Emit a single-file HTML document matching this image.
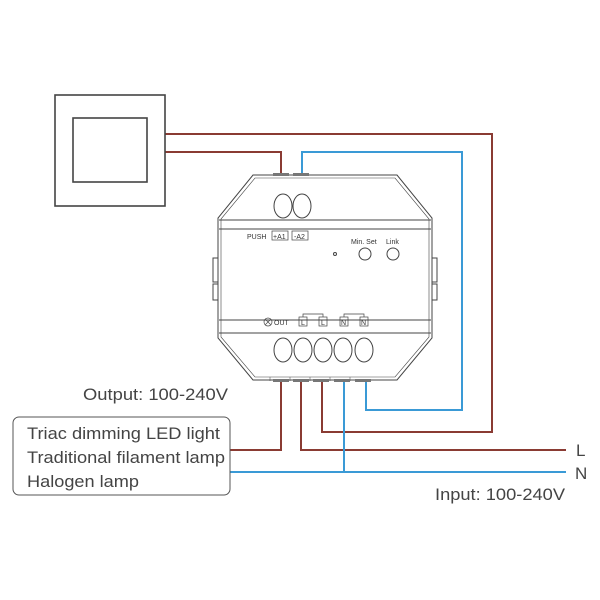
<!DOCTYPE html><html><head><style>body{margin:0;background:#fff}svg{display:block}text{font-family:"Liberation Sans",sans-serif}</style></head><body>
<svg width="600" height="600" viewBox="0 0 600 600" xmlns="http://www.w3.org/2000/svg">
<g fill="none" stroke-width="2">
<path d="M165 134H492V432H322V380" stroke="#8a3b33"/>
<path d="M165 152H281V176" stroke="#8a3b33"/>
<path d="M302 176V152H462V410H366V380" stroke="#3a9ad6"/>
<path d="M230 450H281V380" stroke="#8a3b33"/>
<path d="M301 380V450H566" stroke="#8a3b33"/>
<path d="M230 472H566M344 380V472" stroke="#3a9ad6"/>
</g>
<g fill="none" stroke="#444" stroke-width="1.6">
<rect x="55" y="95" width="110" height="111"/>
<rect x="73" y="118" width="74" height="64"/>
</g>
<g fill="none" stroke="#444" stroke-width="1">
<path d="M253 175H397L432 218V338L397 380H253L218 338V218Z"/>
<path d="M255 178H395L429 219V337L395 377H255L221 337V219Z" stroke-width=".6"/>
<path d="M219 220H431M219 229H431M219 320H431M219 333H431"/>
<rect x="213" y="258" width="5" height="24"/><rect x="213" y="284" width="5" height="16"/>
<rect x="432" y="258" width="5" height="24"/><rect x="432" y="284" width="5" height="16"/>
<ellipse cx="283" cy="206" rx="9" ry="12"/><ellipse cx="302" cy="206" rx="9" ry="12"/>
<ellipse cx="283" cy="350" rx="9" ry="12"/><ellipse cx="303" cy="350" rx="9" ry="12"/><ellipse cx="323" cy="350" rx="9" ry="12"/><ellipse cx="343" cy="350" rx="9" ry="12"/><ellipse cx="364" cy="350" rx="9" ry="12"/>
<circle cx="365" cy="254" r="6"/><circle cx="393" cy="254" r="6"/><circle cx="335" cy="254" r="1.5"/>
<rect x="272" y="231" width="16" height="9" stroke-width=".7"/><rect x="292" y="231" width="16" height="9" stroke-width=".7"/>
<rect x="299" y="317" width="8" height="9" stroke-width=".7"/><rect x="319" y="317" width="8" height="9" stroke-width=".7"/>
<rect x="340" y="317" width="8" height="9" stroke-width=".7"/><rect x="360" y="317" width="8" height="9" stroke-width=".7"/>
<path d="M303 317V314H323V317M344 317V314H364V317" stroke-width=".7"/>
<circle cx="268" cy="322" r="4" stroke-width=".7"/><path d="M265 319L271 325M271 319L265 325" stroke-width=".7"/>
<path d="M270 377V381M290 377V381M310 377V381M330 377V381M350 377V381" stroke-width=".5"/>
</g>
<g fill="#777"><rect x="273" y="173" width="16" height="3"/><rect x="293" y="173" width="16" height="3"/>
<rect x="273" y="379" width="16" height="3"/><rect x="293" y="379" width="16" height="3"/><rect x="313" y="379" width="16" height="3"/><rect x="334" y="379" width="16" height="3"/><rect x="355" y="379" width="16" height="3"/></g>
<g font-size="7" fill="#333">
<text x="247" y="239">PUSH</text><text x="273" y="239">+A1</text><text x="294" y="239">-A2</text>
<text x="351" y="244">Min. Set</text><text x="386" y="244">Link</text>
<text x="274" y="325">OUT</text><text x="301" y="325">L</text><text x="321" y="325">L</text><text x="341" y="325">N</text><text x="361" y="325">N</text>
</g>
<rect x="13" y="417" width="217" height="78" rx="6" fill="none" stroke="#555" stroke-width="1"/>
<g font-size="17" fill="#444">
<text x="83" y="400" textLength="145" lengthAdjust="spacingAndGlyphs">Output: 100-240V</text>
<text x="27" y="439" textLength="193" lengthAdjust="spacingAndGlyphs">Triac dimming LED light</text>
<text x="27" y="463" textLength="198" lengthAdjust="spacingAndGlyphs">Traditional filament lamp</text>
<text x="27" y="487" textLength="112" lengthAdjust="spacingAndGlyphs">Halogen lamp</text>
<text x="435" y="500" textLength="130" lengthAdjust="spacingAndGlyphs">Input: 100-240V</text>
<text x="576" y="456">L</text><text x="575" y="479">N</text>
</g>
</svg></body></html>
